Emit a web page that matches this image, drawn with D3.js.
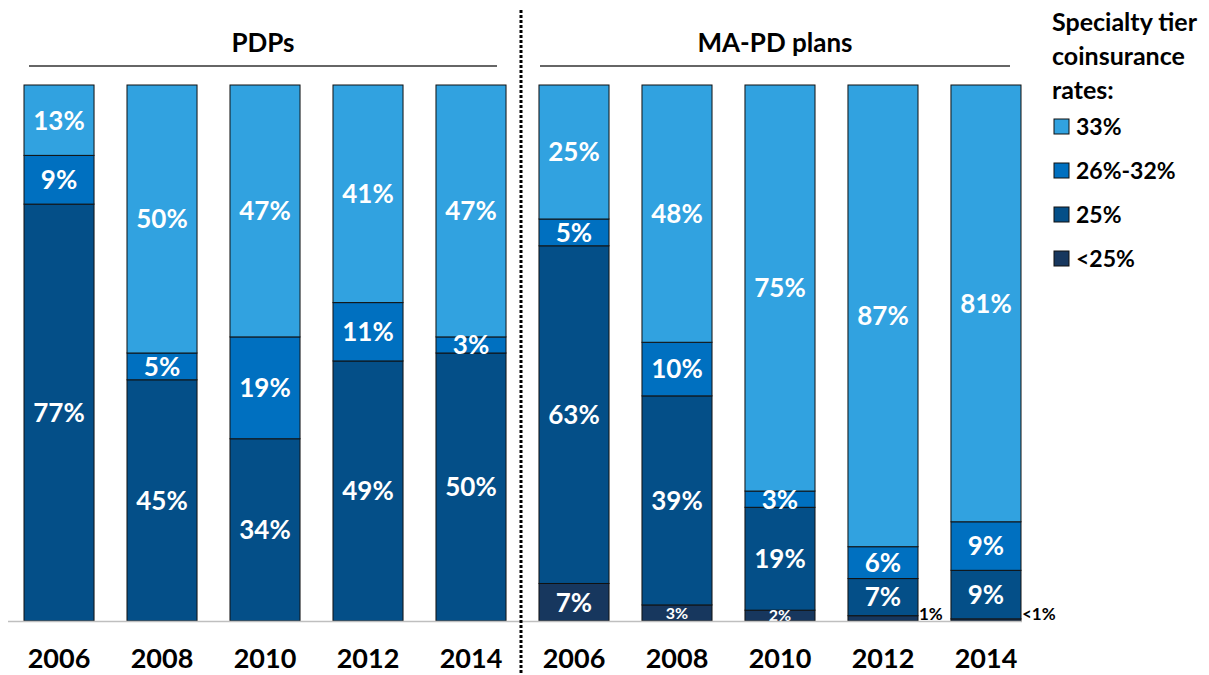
<!DOCTYPE html>
<html>
<head>
<meta charset="utf-8">
<script src="https://cdn.jsdelivr.net/npm/d3@7"></script>
<style>
  body { margin: 0; background: #fff; }
  svg { font-family: Lato, "Open Sans", sans-serif; font-weight: bold; }
</style>
</head>
<body>
<div id="chart"></div>
<script>
// Chart data
const groups = ["PDPs", "MA-PD plans"];
const years = ["2006", "2008", "2010", "2012", "2014"];
const tiers = ["<25%", "25%", "26%-32%", "33%"];
const tierColors = ["#17375e", "#044f88", "#0070c0", "#31a2e0"];
// values per bar, bottom to top: <25%, 25%, 26%-32%, 33%
const pdpValues = [
    [0, 77, 9, 13],
    [0, 45, 5, 50],
    [0, 34, 19, 47],
    [0, 49, 11, 41],
    [0, 50, 3, 47]
];
const mapdValues = [
    [7, 63, 5, 25],
    [3, 39, 10, 48],
    [2, 19, 3, 75],
    [1, 7, 6, 87],
    [0.4, 9, 9, 81]
];
const barLabels = [
    ["", "77%", "9%", "13%"], ["", "45%", "5%", "50%"], ["", "34%", "19%", "47%"],
    ["", "49%", "11%", "41%"], ["", "50%", "3%", "47%"],
    ["7%", "63%", "5%", "25%"], ["3%", "39%", "10%", "48%"], ["2%", "19%", "3%", "75%"],
    ["1%", "7%", "6%", "87%"], ["<1%", "9%", "9%", "81%"]
];

const width = 1209, height = 675;
const svg = d3.select("#chart").append("svg")
    .attr("width", width)
    .attr("height", height);

// Build the bar list
const bars = [];
groups.forEach((g, gi) => {
    const vals = gi === 0 ? pdpValues : mapdValues;
    years.forEach((yr, yi) => {
        bars.push({ key: g + "-" + yr, group: g, year: yr, values: vals[yi], labels: barLabels[gi * 5 + yi] });
    });
});

const x = d3.scaleBand()
    .domain(bars.map(d => d.key))
    .range([24, 1021])
    .paddingInner(0.32)
    .paddingOuter(0);

const y = d3.scaleLinear().domain([0, 100]).range([621, 85]);

// stacked segments, normalized to 100%
bars.forEach(b => {
    const total = d3.sum(b.values);
    let acc = 0;
    b.segs = b.values.map((v, i) => {
        const s = { tier: i, y0: acc / total * 100, y1: (acc + v) / total * 100, label: b.labels[i], key: b.key };
        acc += v;
        return s;
    });
});

const barG = svg.append("g");
const barSel = barG.selectAll("g.bar")
    .data(bars)
    .join("g")
    .attr("class", "bar")
    .attr("transform", d => `translate(${x(d.key)},0)`);

barSel.selectAll("rect")
    .data(d => d.segs.filter(s => s.y1 > s.y0))
    .join("rect")
    .attr("x", 0)
    .attr("width", x.bandwidth())
    .attr("y", s => y(s.y1))
    .attr("height", s => y(s.y0) - y(s.y1))
    .attr("fill", s => tierColors[s.tier])
    .attr("stroke", "#111")
    .attr("stroke-width", 1);

// labels inside segments (tiny ones go outside the bar)
const isTiny = s => (s.y1 - s.y0) < 1.5;
barSel.selectAll("text.seg")
    .data(d => d.segs.filter(s => s.label !== ""))
    .join("text")
    .attr("class", "seg")
    .attr("text-anchor", s => isTiny(s) ? "start" : "middle")
    .attr("x", s => isTiny(s) ? x.bandwidth() + 1 : x.bandwidth() / 2)
    .attr("y", s => isTiny(s) ? y(0) - 1 : (y(s.y0) + y(s.y1)) / 2)
    .attr("dy", s => isTiny(s) ? 0 : "0.36em")
    .attr("fill", s => isTiny(s) ? "#000" : "#fff")
    .attr("font-size", s => isTiny(s) ? 17 : (s.tier === 0 && (s.y1 - s.y0) < 4) ? 16 : 26)
    .text(s => s.label);

// baseline
svg.append("line")
    .attr("x1", 8).attr("x2", 1022)
    .attr("y1", y(0) + 0.5).attr("y2", y(0) + 0.5)
    .attr("stroke", "#bfbfbf")
    .attr("stroke-width", 1.5);

// year labels
svg.append("g").selectAll("text")
    .data(bars)
    .join("text")
    .attr("x", d => x(d.key) + x.bandwidth() / 2)
    .attr("y", 668)
    .attr("text-anchor", "middle")
    .attr("font-size", 27)
    .attr("fill", "#000")
    .text(d => d.year);

// group titles with underline
const groupSpans = [[29, 497], [540, 1010]];
groups.forEach((g, i) => {
    const [a, b] = groupSpans[i];
    svg.append("text")
        .attr("x", (a + b) / 2)
        .attr("y", 52)
        .attr("text-anchor", "middle")
        .attr("font-size", 26)
        .attr("fill", "#000")
        .text(g);
    svg.append("line")
        .attr("x1", a).attr("x2", b)
        .attr("y1", 66).attr("y2", 66)
        .attr("stroke", "#333")
        .attr("stroke-width", 1.5);
});

// dotted divider
svg.append("line")
    .attr("x1", 521).attr("x2", 521)
    .attr("y1", 10).attr("y2", 675)
    .attr("stroke", "#000")
    .attr("stroke-width", 3)
    .attr("stroke-dasharray", "3,2");

// legend
const legend = svg.append("g").attr("transform", "translate(1052,0)");
["Specialty tier", "coinsurance", "rates:"].forEach((t, i) => {
    legend.append("text")
        .attr("x", 0)
        .attr("y", 31 + i * 34)
        .attr("font-size", 25)
        .attr("fill", "#000")
        .text(t);
});
const legendOrder = [3, 2, 1, 0];
legendOrder.forEach((ti, i) => {
    const cy = 127 + i * 44;
    legend.append("rect")
        .attr("x", 2).attr("y", cy - 8)
        .attr("width", 15).attr("height", 15)
        .attr("fill", tierColors[ti])
        .attr("stroke", "#111");
    legend.append("text")
        .attr("x", 24)
        .attr("y", cy)
        .attr("dy", "0.36em")
        .attr("font-size", 23)
        .attr("fill", "#000")
        .text(tiers[ti]);
});
</script>
</body>
</html>
